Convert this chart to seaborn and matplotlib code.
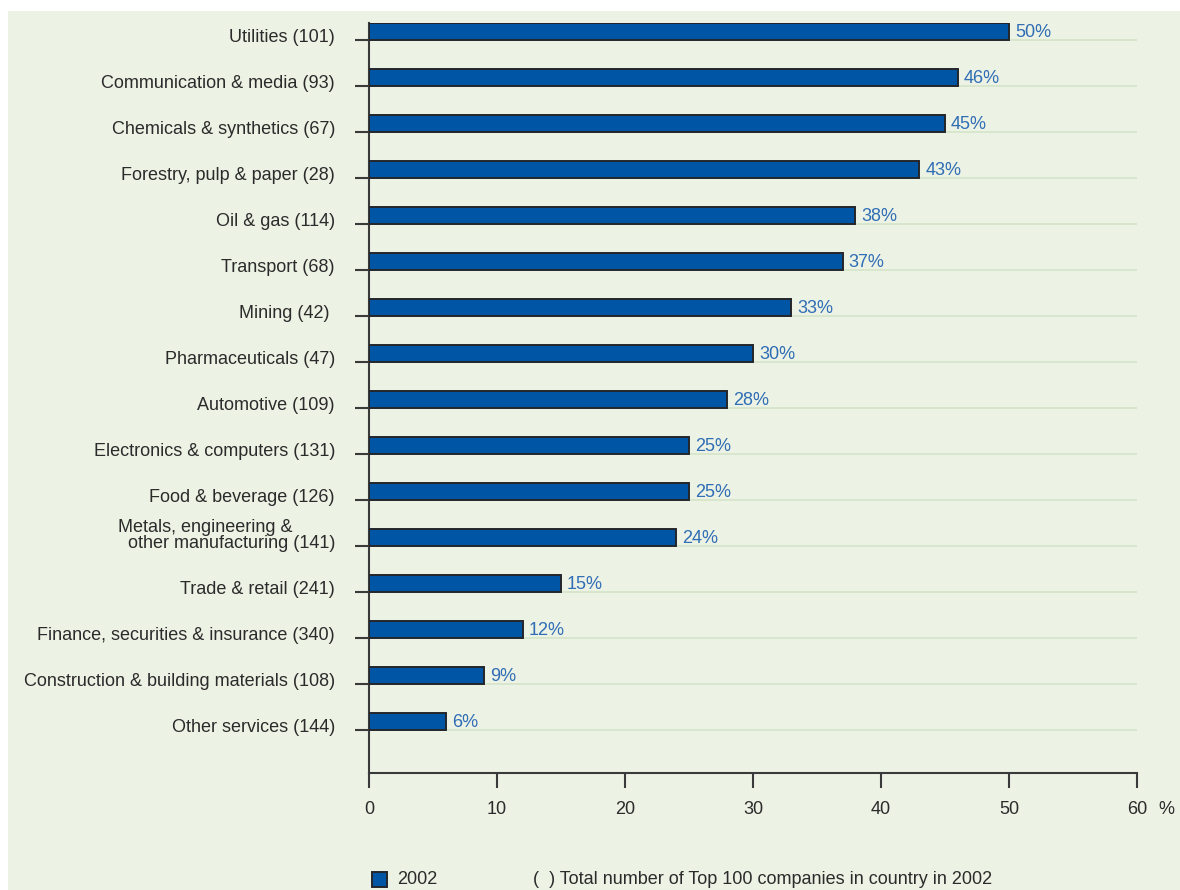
import matplotlib
matplotlib.use("Agg")
import matplotlib.pyplot as plt
import matplotlib.patches as mpatches
import seaborn as sns
import pandas as pd

sectors = [
    "Utilities (101)",
    "Communication & media (93)",
    "Chemicals & synthetics (67)",
    "Forestry, pulp & paper (28)",
    "Oil & gas (114)",
    "Transport (68)",
    "Mining (42) ",
    "Pharmaceuticals (47)",
    "Automotive (109)",
    "Electronics & computers (131)",
    "Food & beverage (126)",
    "Metals, engineering &\n  other manufacturing (141)",
    "Trade & retail (241)",
    "Finance, securities & insurance (340)",
    "Construction & building materials (108)",
    "Other services (144)",
]
share_2002 = [50, 46, 45, 43, 38, 37, 33, 30, 28, 25, 25, 24, 15, 12, 9, 6]
x_ticks = [0, 10, 20, 30, 40, 50, 60]

BAR = "#0055A5"
EDGE = "#23262B"
PANEL = "#ECF2E4"
GRID = "#D6E5CB"
VALUE = "#2F6DB5"
TEXT = "#2B2B2B"
AXIS = "#3A3A3A"
FS = 13

sns.set_style("white")
plt.rcParams["font.family"] = ["Liberation Sans", "DejaVu Sans"]

W, H = 1180, 890
fig = plt.figure(figsize=(W / 100, H / 100), dpi=100, facecolor="white")
# light green panel behind the chart
fig.patches.append(mpatches.Rectangle((8 / W, 0), 1 - 8 / W, 1 - 11 / H,
                                      transform=fig.transFigure, facecolor=PANEL,
                                      edgecolor="none", zorder=-10))

ax = fig.add_axes([369 / W, 1 - 773 / H, (1137 - 369) / W, (773 - 23) / H])
ax.set_facecolor("none")

df = pd.DataFrame({"sector": sectors, "share": share_2002})
bar_w = 17 / 46
sns.barplot(data=df, y="sector", x="share", orient="h", ax=ax, color=BAR,
            width=bar_w, edgecolor=EDGE, linewidth=1.4, saturation=1, zorder=3)

n = len(sectors)
half = bar_w / 2
ax.set_xlim(0, 60)
ax.set_ylim(n - 1 + 1.12, -half)

# ticks and gridlines sit on the lower edge of each bar
tick_pos = [i + half for i in range(n)]
ax.set_yticks(tick_pos)
ax.set_yticklabels([])
for y in tick_pos:
    ax.plot([0, 60], [y, y], color=GRID, lw=1.3, zorder=1, solid_capstyle="butt")

# category labels, right-aligned against the ticks
for y, lab in zip(tick_pos, sectors):
    two = "\n" in lab
    ax.annotate(lab, xy=(0, y), xycoords=("axes fraction", "data"),
                xytext=(-24.5, 7.5 if two else 1.5), textcoords="offset points",
                ha="right", va="center", fontsize=FS, color=TEXT,
                multialignment="left", linespacing=0.95, annotation_clip=False)

ax.set_xticks(x_ticks)
ax.set_xticklabels([str(v) for v in x_ticks], fontsize=FS, color=TEXT)
ax.tick_params(axis="x", bottom=True, direction="out", length=10.8, width=1.5,
               color=AXIS, pad=9)
ax.tick_params(axis="y", left=True, direction="out", length=10, width=1.5, color=AXIS)
ax.set_xlabel("")
ax.set_ylabel("")

for side in ("top", "right"):
    ax.spines[side].set_visible(False)
for side in ("left", "bottom"):
    ax.spines[side].set_linewidth(1.5)
    ax.spines[side].set_color(AXIS)

for i, v in enumerate(share_2002):
    ax.annotate(f"{v}%", xy=(v, i), xytext=(4.3, -0.5), textcoords="offset points",
                ha="left", va="center", fontsize=FS, color=VALUE, zorder=4)

fig.text(1166 / W, 1 - 810 / H, "%", fontsize=FS, color=TEXT, ha="center", va="center")

# legend row along the bottom
fig.patches.append(mpatches.Rectangle((372 / W, 1 - 887 / H), 15 / W, 15 / H,
                                      transform=fig.transFigure, facecolor=BAR,
                                      edgecolor=EDGE, linewidth=1.4))
fig.text(397 / W, 1 - 880 / H, "2002", fontsize=FS, color=TEXT, ha="left", va="center")
fig.text(533 / W, 1 - 880 / H, "(  ) Total number of Top 100 companies in country in 2002",
         fontsize=FS, color=TEXT, ha="left", va="center")

fig.savefig("out.png", dpi=100, facecolor="white")
